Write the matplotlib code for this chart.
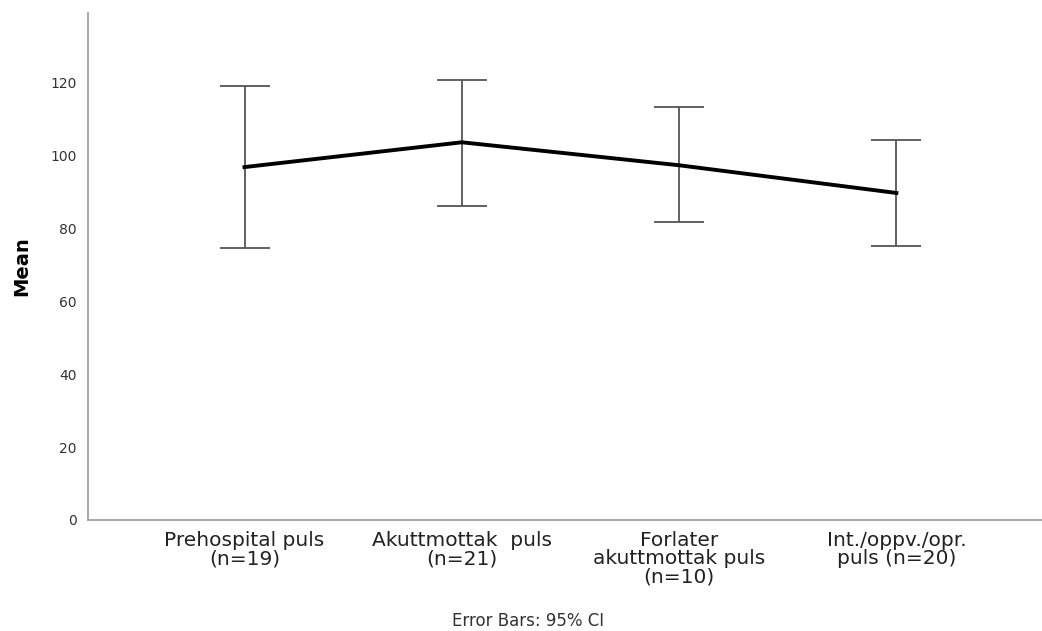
import matplotlib as mpl
mpl.use("Agg")
import matplotlib.pyplot as plt

labels = ["Prehospital puls\n(n=19)", "Akuttmottak  puls\n(n=21)",
          "Forlater\nakuttmottak puls\n(n=10)", "Int./oppv./opr.\npuls (n=20)"]
means = [96.8, 103.6, 97.3, 89.7]
ci_low = [74.7, 86.1, 81.6, 75.1]
ci_high = [119.0, 120.7, 113.2, 104.1]

x = list(range(len(labels)))
err = [[m - lo for m, lo in zip(means, ci_low)],
       [hi - m for m, hi in zip(means, ci_high)]]

fig = plt.figure(figsize=(10.42, 6.31), dpi=100)
ax = fig.add_axes([0.0845, 0.176, 0.9155, 0.803])

ax.errorbar(x, means, yerr=err, fmt="none", ecolor="#555555", elinewidth=1.3,
            capsize=18, capthick=1.3, zorder=2)
ax.plot(x, means, color="black", lw=2.8, zorder=3)

ax.set_xlim(-0.72, 3.67)
ax.set_ylim(0, 139)
ax.set_yticks([0, 20, 40, 60, 80, 100, 120])
ax.set_xticks(x)
ax.set_xticklabels(labels, fontsize=14.5, color="#222222", linespacing=0.95)
ax.tick_params(axis="both", length=0)
ax.tick_params(axis="y", labelsize=10, labelcolor="#333333", pad=8)
ax.tick_params(axis="x", pad=8)
for s in ["top", "right"]:
    ax.spines[s].set_visible(False)
for s in ["left", "bottom"]:
    ax.spines[s].set_color("#999999")
    ax.spines[s].set_linewidth(1.2)

ax.set_ylabel("Mean", fontsize=14, fontweight="bold", labelpad=14)
fig.text(0.507, 0.016, "Error Bars: 95% CI", ha="center", va="center",
         fontsize=12, color="#333333")

fig.savefig("out.png", dpi=100)
